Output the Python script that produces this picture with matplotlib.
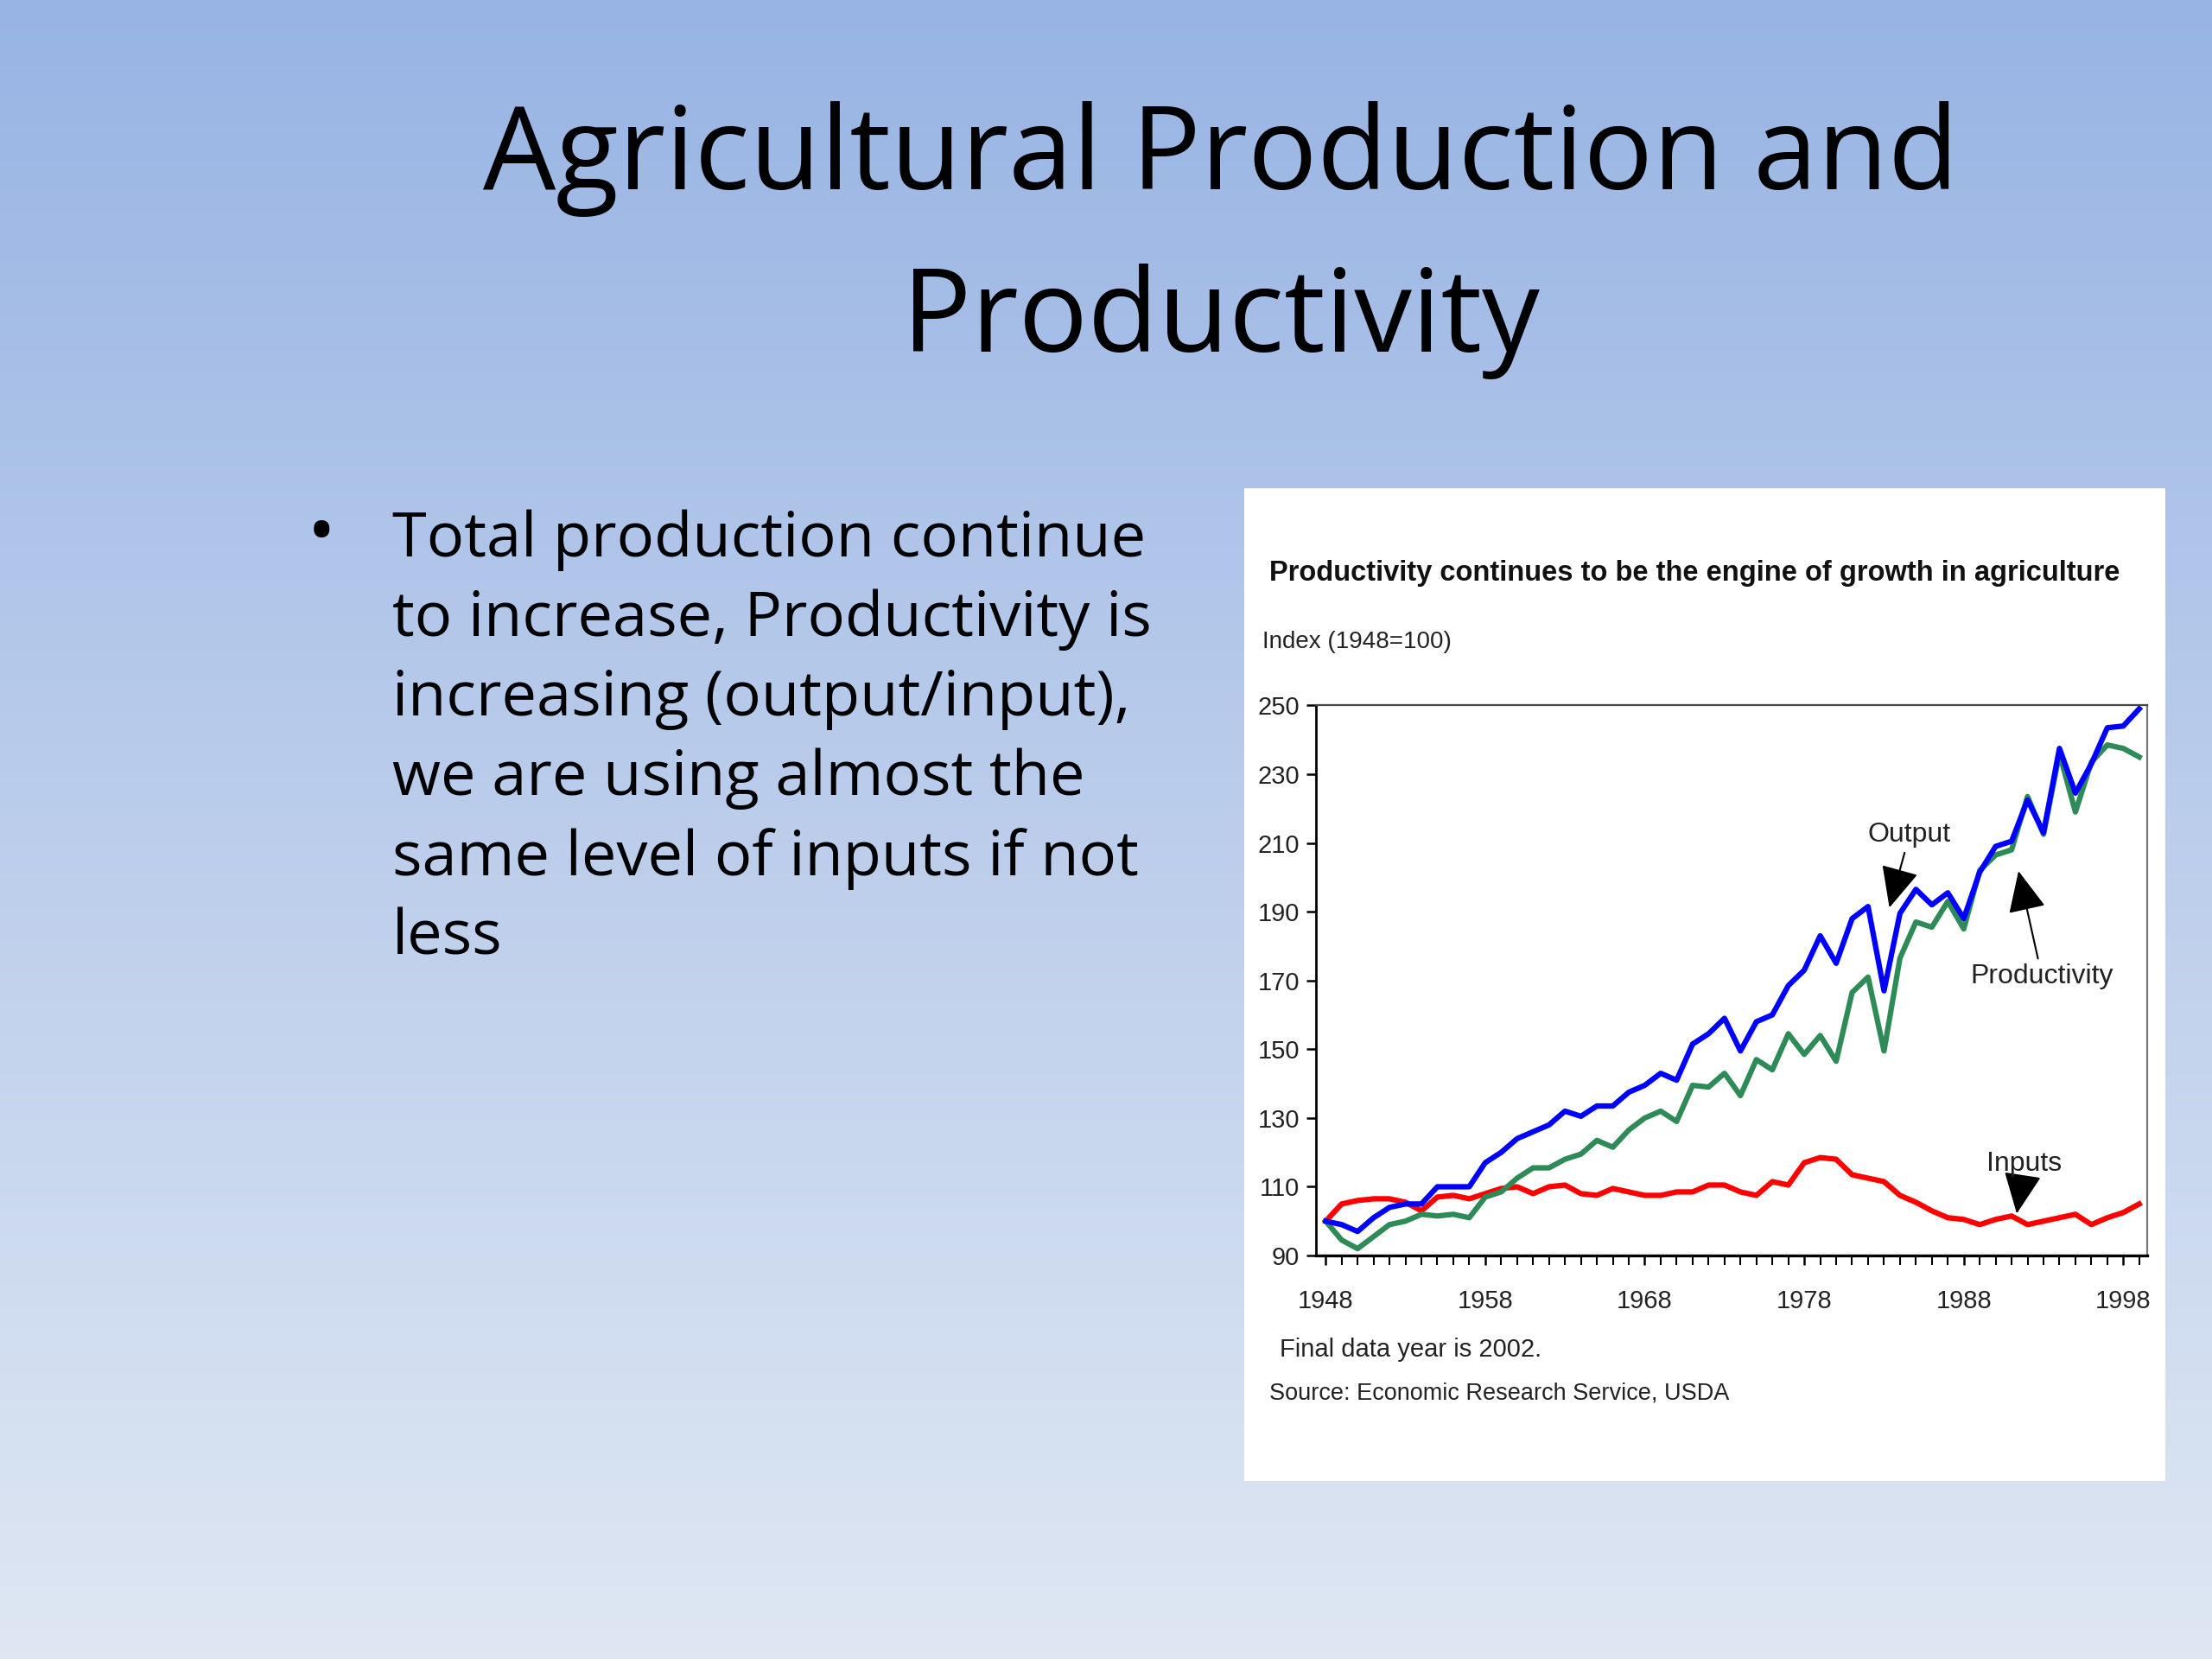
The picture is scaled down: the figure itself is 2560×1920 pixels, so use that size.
import matplotlib
matplotlib.use('Agg')
import matplotlib.pyplot as plt
import numpy as np

# data (index, 1948=100)
years = list(range(1948, 2000))
output = [100, 99, 97, 101, 104, 105, 105, 110, 110, 110,
          117, 120, 124, 126, 128, 132, 130.5, 133.5, 133.5, 137.5,
          139.5, 143, 141, 151.5, 154.5, 159, 149.5, 158, 160, 168.5,
          173, 183, 175, 188, 191.5, 167, 189.5, 196.5, 192, 195.5,
          188, 201.5, 209, 210.5, 222.5, 213, 237.5, 224.5, 233, 243.5,
          244, 249]
productivity = [100, 94.5, 92, 95.5, 99, 100, 102, 101.5, 102, 101,
                107, 108.5, 112.5, 115.5, 115.5, 118, 119.5, 123.5, 121.5, 126.5,
                130, 132, 129, 139.5, 139, 143, 136.5, 147, 144, 154.5,
                148.5, 154, 146.5, 166.5, 171, 149.5, 176.5, 187, 185.5, 193,
                185, 202, 206.5, 208, 223.5, 212.5, 236, 219, 233.5, 238.5,
                237.5, 235]
inputs = [100, 105, 106, 106.5, 106.5, 105.5, 103, 107, 107.5, 106.5,
          108, 109.5, 110, 108, 110, 110.5, 108, 107.5, 109.5, 108.5,
          107.5, 107.5, 108.5, 108.5, 110.5, 110.5, 108.5, 107.5, 111.5, 110.5,
          117, 118.5, 118, 113.5, 112.5, 111.5, 107.5, 105.5, 103, 101,
          100.5, 99, 100.5, 101.5, 99, 100, 101, 102, 99, 101,
          102.5, 105]

year_ticks = [1948, 1958, 1968, 1978, 1988, 1998]
value_ticks = [90, 110, 130, 150, 170, 190, 210, 230, 250]

slide_title = ['Agricultural Production and', 'Productivity']
bullet_lines = ['Total production continue',
                'to increase, Productivity is',
                'increasing (output/input),',
                'we are using almost the',
                'same level of inputs if not',
                'less']

narrow = ['Liberation Sans', 'DejaVu Sans']
slide_font = ['Open Sans', 'DejaVu Sans']

fig = plt.figure(figsize=(25.6, 19.2), dpi=100)

# slide background, blue gradient
bg = fig.add_axes([0, 0, 1, 1])
top_c = np.array([152, 180, 228]) / 255
bot_c = np.array([223, 231, 243]) / 255
t = np.linspace(0, 1, 256)[:, None]
grad = top_c[None, :] * (1 - t) + bot_c[None, :] * t
bg.imshow(grad[:, None, :], aspect='auto', extent=[0, 1, 0, 1])
bg.set_xlim(0, 1)
bg.set_ylim(0, 1)
bg.axis('off')

# title
fig.text(0.552, 0.904, slide_title[0], ha='center', va='center',
         fontsize=96, family=slide_font, color='black')
fig.text(0.552, 0.806, slide_title[1], ha='center', va='center',
         fontsize=96, family=slide_font, color='black')

# bullet text
fig.text(0.1454, 0.6765, '•', ha='center', va='center', fontsize=62,
         family=slide_font)
for i, line in enumerate(bullet_lines):
    fig.text(0.1773, 0.6745 - i * 0.048, line, ha='left', va='center',
             fontsize=52, family=slide_font)

# white panel for the pasted chart
panel = fig.add_axes([0.5625, 0.1071, 0.4165, 0.5987])
panel.set_facecolor('white')
panel.set_xticks([])
panel.set_yticks([])
for s in panel.spines.values():
    s.set_visible(False)

ax = fig.add_axes([0.5950, 0.2432, 0.3757, 0.3316])
ax.plot(years, inputs, color='#ff0000', lw=4.5)
ax.plot(years, productivity, color='#2e8b57', lw=4.5)
ax.plot(years, output, color='#0000ff', lw=4.5)

ax.set_xlim(1947.4, 1999.5)
ax.set_ylim(90, 250)
ax.set_xticks(year_ticks)
ax.set_xticks(years, minor=True)
ax.set_yticks(value_ticks)
ax.tick_params(axis='both', direction='out', length=8, width=1.8, color='black')
ax.tick_params(axis='x', which='minor', length=8, width=1.5)
ax.tick_params(axis='x', pad=20)
ax.tick_params(axis='y', pad=6)
for lab in ax.get_xticklabels() + ax.get_yticklabels():
    lab.set_family(narrow)
    lab.set_fontsize(21)
    lab.set_color('#222222')
ax.spines['left'].set_linewidth(2)
ax.spines['bottom'].set_linewidth(2.4)
ax.spines['top'].set_linewidth(1.6)
ax.spines['top'].set_linestyle((0, (1, 1)))
ax.spines['top'].set_color('#444444')
ax.spines['right'].set_linewidth(1.6)
ax.spines['right'].set_color('#777777')

arrow = dict(arrowstyle='-|>,head_length=1.3,head_width=0.6', color='black', lw=1.5)
ax.annotate('Output', xy=(1983.3, 190.5), xytext=(1984.6, 212.3),
            ha='center', va='center', fontsize=23, family=narrow,
            color='#222222', arrowprops=arrow)
ax.annotate('Productivity', xy=(1991.4, 202.5), xytext=(1992.9, 171.2),
            ha='center', va='center', fontsize=23, family=narrow,
            color='#222222', arrowprops=arrow)
ax.annotate('Inputs', xy=(1991.3, 101.5), xytext=(1991.8, 116.7),
            ha='center', va='center', fontsize=23, family=narrow,
            color='#222222', arrowprops=arrow)

# chart header and notes
fig.text(0.574, 0.6545, 'Productivity continues to be the engine of growth in agriculture',
         ha='left', va='center', fontsize=23.5, fontweight='bold', family=narrow,
         color='#111111')
fig.text(0.5708, 0.613, 'Index (1948=100)', ha='left', va='center',
         fontsize=20, family=narrow, color='#222222')
fig.text(0.5784, 0.1862, 'Final data year is 2002.', ha='left', va='center',
         fontsize=21, family=narrow, color='#222222')
fig.text(0.574, 0.1599, 'Source: Economic Research Service, USDA', ha='left',
         va='center', fontsize=19.5, family=narrow, color='#222222')

fig.savefig('out.png', dpi=100)
